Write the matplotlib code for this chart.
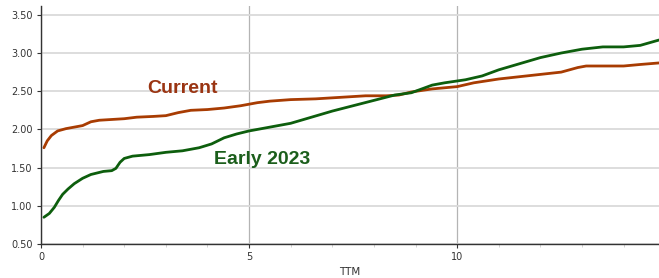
import matplotlib
matplotlib.use("Agg")
import matplotlib.pyplot as plt
from matplotlib.ticker import MultipleLocator

# curve readings (TTM in years, value)
current_x = [0.07, 0.15, 0.25, 0.4, 0.6, 0.8, 1.0, 1.2, 1.4, 1.7, 2.0, 2.3, 2.7, 3.0,
             3.3, 3.6, 4.0, 4.4, 4.8, 5.2, 5.5, 6.0, 6.6, 7.2, 7.8, 8.3, 8.6, 8.9,
             9.4, 10.0, 10.4, 11.0, 11.5, 12.0, 12.5, 12.9, 13.1, 14.0, 14.4, 14.85]
current_y = [1.76, 1.85, 1.92, 1.98, 2.01, 2.03, 2.05, 2.10, 2.12, 2.13, 2.14, 2.16, 2.17, 2.18,
             2.22, 2.25, 2.26, 2.28, 2.31, 2.35, 2.37, 2.39, 2.40, 2.42, 2.44, 2.44, 2.45, 2.49,
             2.53, 2.56, 2.61, 2.66, 2.69, 2.72, 2.75, 2.81, 2.83, 2.83, 2.85, 2.87]

early_x = [0.07, 0.2, 0.32, 0.42, 0.52, 0.65, 0.8, 1.0, 1.2, 1.5, 1.7, 1.8, 1.9, 2.0, 2.2, 2.6,
           3.0, 3.4, 3.8, 4.1, 4.4, 4.7, 5.0, 5.5, 6.0, 6.5, 7.0, 7.5, 8.0, 8.5, 8.9,
           9.1, 9.4, 9.7, 10.2, 10.6, 11.0, 11.5, 12.0, 12.5, 13.0, 13.5, 14.0, 14.4, 14.85]
early_y = [0.85, 0.90, 0.98, 1.07, 1.15, 1.22, 1.29, 1.36, 1.41, 1.45, 1.46, 1.49, 1.57, 1.62, 1.65, 1.67,
           1.70, 1.72, 1.76, 1.81, 1.89, 1.94, 1.98, 2.03, 2.08, 2.16, 2.24, 2.31, 2.38, 2.45, 2.48,
           2.52, 2.58, 2.61, 2.65, 2.70, 2.78, 2.86, 2.94, 3.00, 3.05, 3.08, 3.08, 3.10, 3.17]

fig = plt.figure(figsize=(6.59, 2.78), dpi=100)
ax = fig.add_axes([0.0622, 0.1223, 0.9378, 0.856])

ax.plot(current_x, current_y, color="#a83c02", lw=2.0, solid_capstyle="round")
ax.plot(early_x, early_y, color="#0d5e0d", lw=2.0, solid_capstyle="round")

ax.text(3.41, 2.53, "Current", color="#9a3412", fontsize=14, fontweight="bold",
        family="Liberation Sans", ha="center", va="center")
ax.text(5.31, 1.60, "Early 2023", color="#1b5e1b", fontsize=14, fontweight="bold",
        family="Liberation Sans", ha="center", va="center")

ax.set_xlim(0, 14.85)
ax.set_ylim(0.5, 3.615)
ax.set_yticks([0.5, 1.0, 1.5, 2.0, 2.5, 3.0, 3.5])
ax.set_yticklabels(["0.50", "1.00", "1.50", "2.00", "2.50", "3.00", "3.50"])
ax.set_xticks([0, 5, 10])
ax.xaxis.set_minor_locator(MultipleLocator(1))

ax.grid(axis="y", color="#dadada", lw=1.3)
ax.grid(axis="x", which="major", color="#b4b4b4", lw=0.9)
ax.set_axisbelow(True)

for s in ["top", "right"]:
    ax.spines[s].set_visible(False)
for s in ["left", "bottom"]:
    ax.spines[s].set_color("#333333")
    ax.spines[s].set_linewidth(1.0)

ax.tick_params(axis="both", which="major", labelsize=7, colors="#333333", length=3, width=0.8, pad=3)
ax.tick_params(axis="x", which="minor", length=2, color="#cccccc")
ax.set_xlabel("TTM", fontsize=7.5, color="#333333", labelpad=3)

fig.savefig("out.png", dpi=100)
